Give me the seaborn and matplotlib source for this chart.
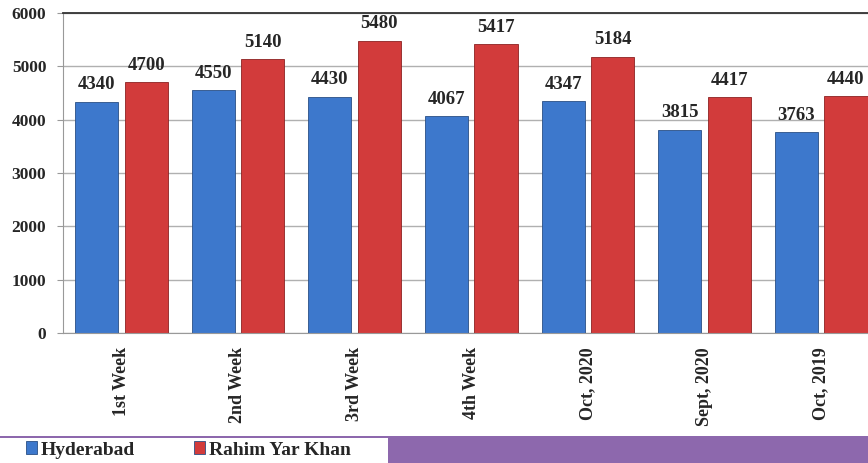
import seaborn as sns
import pandas as pd
import matplotlib.pyplot as plt
from matplotlib.patches import Rectangle

categories = ['1st Week', '2nd Week', '3rd Week', '4th Week', 'Oct, 2020', 'Sept, 2020', 'Oct, 2019']
hyderabad = [4340, 4550, 4430, 4067, 4347, 3815, 3763]
rahim_yar_khan = [4700, 5140, 5480, 5417, 5184, 4417, 4440]
series = ['Hyderabad', 'Rahim Yar Khan']
colors = ['#3d78cc', '#d23b3b']

df = pd.DataFrame({
    'Period': categories * 2,
    'City': [series[0]] * len(categories) + [series[1]] * len(categories),
    'Value': hyderabad + rahim_yar_khan,
})

sns.set_style('white')
plt.rcParams['font.family'] = ['Liberation Serif', 'DejaVu Serif']
plt.rcParams['font.weight'] = 'bold'

fig = plt.figure(figsize=(8.68, 4.63), dpi=100)
ax = fig.add_axes([63 / 868, 1 - 333 / 463, 816.5 / 868, 320 / 463])

sns.barplot(data=df, x='Period', y='Value', hue='City', palette=colors,
            width=0.85, gap=0.13, ax=ax, saturation=1,
            edgecolor='#2a4f85', linewidth=0.6)
# darker edges for the red bars
for bar in ax.patches[len(categories):2 * len(categories)]:
    bar.set_edgecolor('#8c2222')

for cont in ax.containers:
    ax.bar_label(cont, fmt='%d', padding=6, fontsize=13.5, fontweight='bold')

ax.set_ylim(0, 6000)
ax.set_yticks(range(0, 6001, 1000))
ax.set_xlim(-0.5, len(categories) - 0.5)
ax.yaxis.grid(True, color='#b0b0b0', linewidth=1)
ax.set_axisbelow(True)
ax.set_xlabel('')
ax.set_ylabel('')

ax.set_xticks(range(len(categories)))
ax.set_xticklabels(categories, rotation=90, fontsize=13, fontweight='bold')
ax.tick_params(axis='x', length=0, pad=10)
ax.set_xticks([i + 0.5 for i in range(-1, len(categories))], minor=True)
ax.tick_params(axis='x', which='minor', length=5, color='#999999', direction='out')
ax.tick_params(axis='y', labelsize=12.5, length=4, color='#999999', pad=8, direction='out', left=True)
for lab in ax.get_yticklabels():
    lab.set_fontweight('bold')

for side in ['left', 'bottom']:
    ax.spines[side].set_color('#999999')
ax.spines['top'].set_color('#333333')
ax.spines['top'].set_linewidth(1.3)
ax.spines['right'].set_visible(False)

# purple band and white legend box at the bottom
fig.patches.append(Rectangle((0, 0), 1, 27 / 463, transform=fig.transFigure,
                             facecolor='#8d68ad', edgecolor='none', zorder=0))
fig.patches.append(Rectangle((0, 0), 388 / 868, 25 / 463, transform=fig.transFigure,
                             facecolor='white', edgecolor='none', zorder=1))

handles, labels = ax.get_legend_handles_labels()
ax.legend_.remove()
fig.legend(handles, labels, loc='center left', bbox_to_anchor=(8 / 868, 13 / 463),
           ncol=2, frameon=False, handlelength=0.6, handleheight=0.6,
           handletextpad=0.2, columnspacing=3.0, prop={'weight': 'bold', 'size': 14})

plt.savefig('out.png', dpi=100)
